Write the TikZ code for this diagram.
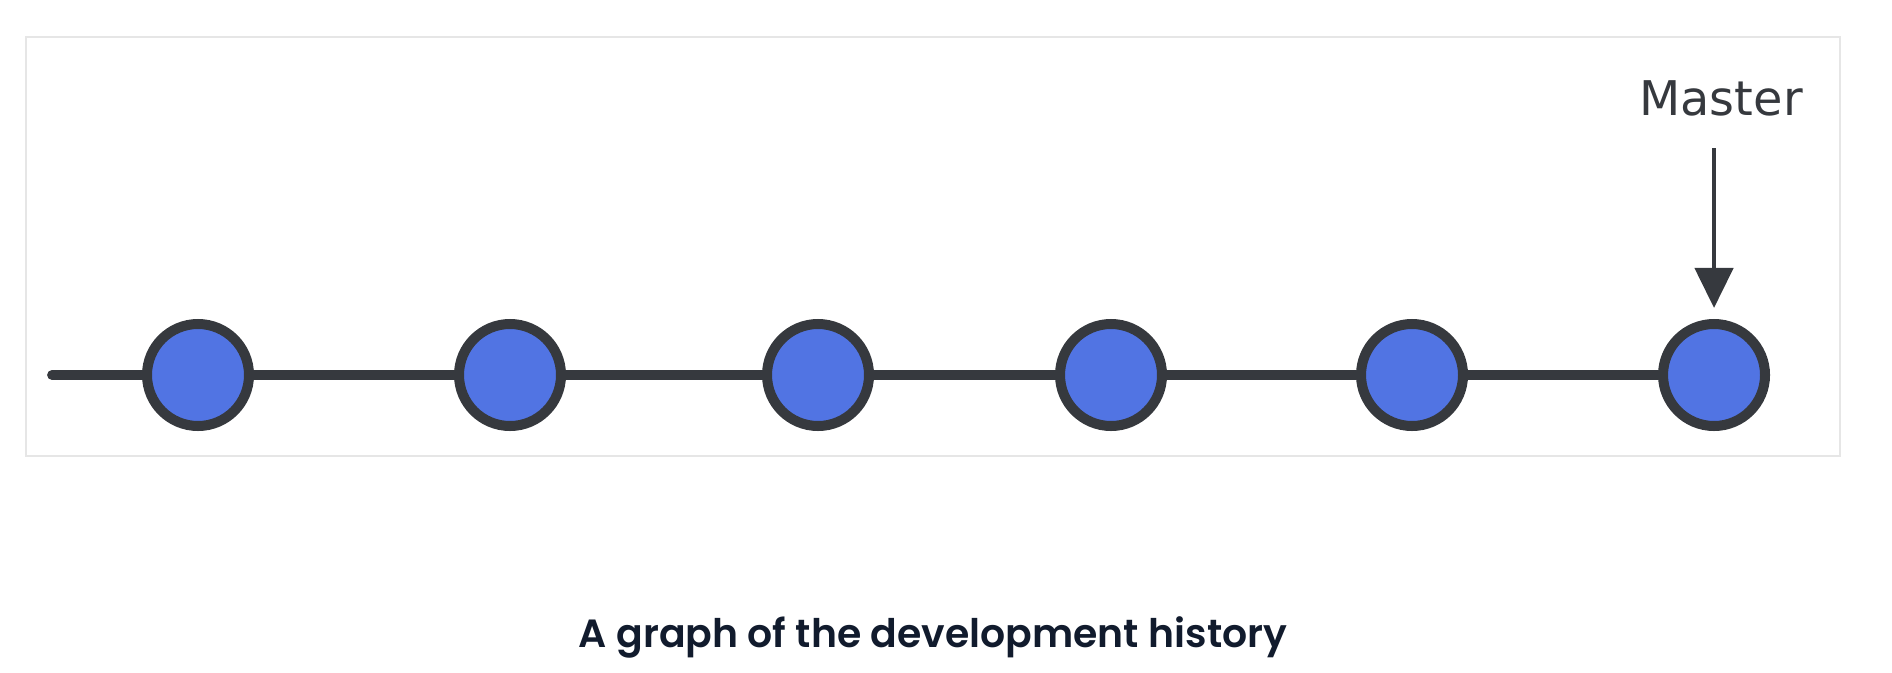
\documentclass[tikz,border=0pt]{standalone}
\usepackage{fontspec}
\usetikzlibrary{positioning, arrows.meta}
\newfontfamily\captionfont{Poppins}[BoldFont={Poppins SemiBold}]
\newfontfamily\labelfont{DejaVu Sans}
\definecolor{inkgrey}{RGB}{54,57,62}
\definecolor{commitblue}{RGB}{81,116,227}
\definecolor{framegrey}{RGB}{230,230,230}
\definecolor{captionink}{RGB}{17,27,45}
\tikzset{
    commit/.style={circle, draw=inkgrey, fill=commitblue, line width=2.85pt, minimum size=1.02cm, inner sep=0pt},
    branch/.style={draw=inkgrey, line width=2.8pt, line cap=round},
    pointer/.style={draw=inkgrey, line width=1.4pt, -{Triangle[width=10.8pt, length=11.4pt]}}
}

\begin{document}
\begin{tikzpicture}
        \useasboundingbox (0,0) rectangle (18.92,6.72);
        %Frame
        \draw[framegrey, line width=0.6pt] (0.26,2.16) rectangle (18.40,6.35);
        %Commits
        \coordinate (start) at (0.52,2.97);
        \foreach \x [count=\i] in {1.98,5.10,8.18,11.11,14.12,17.14}{
            \node[commit] (c\i) at (\x,2.97) {};
        }
        %History line
        \draw[branch] (start) -- (c1) -- (c2) -- (c3) -- (c4) -- (c5) -- (c6);
        %Master pointer
        \node[inner sep=0pt, font=\labelfont\fontsize{13.6pt}{16pt}\selectfont, text=inkgrey] (master) at (17.21,5.74) {Master};
        \draw[pointer, shorten <=0.32cm, shorten >=0.11cm] (master.south -| c6.north) -- (c6.north);
        %Caption
        \node[font=\captionfont\bfseries\fontsize{11.2pt}{13pt}\selectfont, text=captionink] (caption) at (9.33,0.35) {A graph of the development history};
\end{tikzpicture}
\end{document}
